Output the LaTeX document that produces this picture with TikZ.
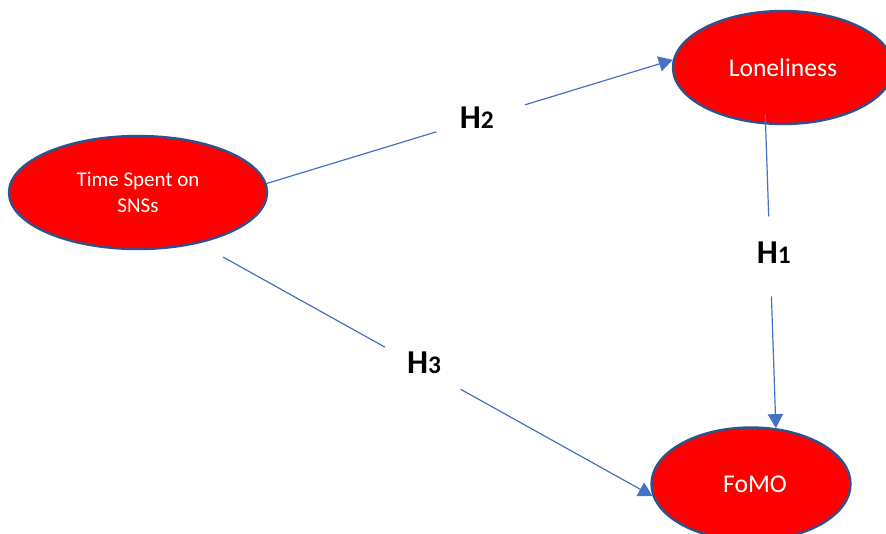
\documentclass[tikz,border=0pt]{standalone}
\usepackage{fontspec}
\setmainfont{Carlito}
\usetikzlibrary{arrows.meta,calc,shapes.geometric}
\definecolor{lineblue}{HTML}{4472C4}
\definecolor{edgeblue}{HTML}{2F528F}
\begin{document}
\begin{tikzpicture}[x=0.75pt,y=-0.75pt,
 oval/.style={ellipse, draw=edgeblue, line width=1.8pt, fill=red, text=white, inner sep=0pt, align=center, minimum height=84.75pt},
 conn/.style={draw=lineblue, line width=0.9pt},
 arr/.style={conn, -{Triangle[length=10.5pt,width=11.5pt]}},
 hyp/.style={anchor=base, font=\bfseries, inner sep=0pt},
]
\useasboundingbox (0,0) rectangle (886,533);
\clip (0,0) rectangle (886,533);
\node[oval, minimum width=193.5pt, font=\fontsize{15.75}{19.5}\selectfont] (time) at (138,192.5) {Time Spent on\\SNSs};
\node[oval, minimum width=165pt, font=\fontsize{19.2}{23}\selectfont] (lone) at (783,67.5) {Loneliness};
\node[oval, minimum width=149.25pt, font=\fontsize{19.2}{23}\selectfont] (fomo) at (751,484) {\hspace*{6pt}FoMO};

\node[hyp] (h2) at (476.7,128.3) {\fontsize{25}{25}\selectfont H\fontsize{19}{19}\selectfont 2};
\node[hyp] (h1) at (773.8,263.3) {\fontsize{25}{25}\selectfont H\fontsize{19}{19}\selectfont 1};
\node[hyp] (h3) at (424,373.3) {\fontsize{25}{25}\selectfont H\fontsize{19}{19}\selectfont 3};

\path (time.4) -- (lone.176) coordinate[pos=0.418] (h2a) coordinate[pos=0.636] (h2b);
\draw[conn] (time.4) -- (h2a);
\draw[arr] (h2b) -- (lone.176);

\path (lone.253) -- (fomo.66) coordinate[pos=0.303] (h1a) coordinate[pos=0.566] (h1b);
\draw[conn, shorten <=-7.5pt] (lone.253) -- (h1a);
\draw[arr] (h1b) -- (fomo.66);

\path (time.320) -- (fomo.187) coordinate[pos=0.41] (h3a) coordinate[pos=0.577] (h3b);
\draw[conn, shorten <=21pt] (time.320) -- (h3a);
\draw[arr] (h3b) -- (fomo.187);
\end{tikzpicture}
\end{document}
